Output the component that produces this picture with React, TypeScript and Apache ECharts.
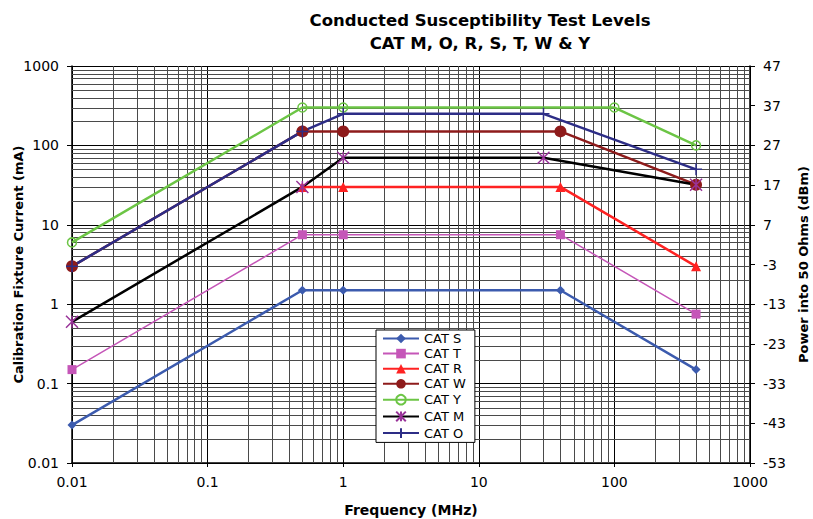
import React, { useEffect, useRef } from "react";
import * as echarts from "echarts";

// ---- Data (frequency in MHz, current in mA) ----
const catSFreq = [0.01, 0.5, 1, 40, 400];
const catSmA = [0.03, 1.5, 1.5, 1.5, 0.15];

const catTFreq = [0.01, 0.5, 1, 40, 400];
const catTmA = [0.15, 7.5, 7.5, 7.5, 0.75];

const catRFreq = [0.5, 1, 40, 400];
const catRmA = [30, 30, 30, 3];

const catWFreq = [0.01, 0.5, 1, 40, 400];
const catWmA = [3, 150, 150, 150, 32];

const catYFreq = [0.01, 0.5, 1, 100, 400];
const catYmA = [6, 300, 300, 300, 100];

const catMFreq = [0.01, 0.5, 1, 30, 400];
const catMmA = [0.6, 30, 70, 70, 32];

const catOFreq = [0.01, 0.5, 1, 30, 400];
const catOmA = [3, 150, 250, 250, 50];

const seriesNames = ["CAT S", "CAT T", "CAT R", "CAT W", "CAT Y", "CAT M", "CAT O"];

// ---- Axes ----
const xTickLabels = ["0.01", "0.1", "1", "10", "100", "1000"];
const yTickLabels = ["0.01", "0.1", "1", "10", "100", "1000"];
const decadeStarts = [0.01, 0.1, 1, 10, 100];
const minorMultipliers = [2, 3, 4, 5, 6, 7, 8, 9];
const X_MIN = 0.01;
const X_MAX = 1000;
const Y_MIN = 0.01;
const Y_MAX = 1000;
const DBM_MIN = -53;
const DBM_MAX = 47;
const DBM_STEP = 10;

const FONT = "DejaVu Sans";

const pairs = (xs: number[], ys: number[]) => xs.map((x, i) => [x, ys[i]]);
const minorValues = decadeStarts.flatMap((d) =>
  minorMultipliers.map((m) => Number((d * m).toPrecision(6)))
);
const labelFor = (labels: string[], v: number) => {
  const idx = Math.round(Math.log10(v)) + 2;
  return labels[idx] ?? "";
};

export default function App() {
  const ref = useRef<HTMLDivElement>(null);

  useEffect(() => {
    document.body.style.margin = "0";
    if (!ref.current) return;
    const chart = echarts.init(ref.current, null, { renderer: "svg" });

    const gridColor = "#4a4a4a";

    const lineSeries = (
      name: string,
      data: number[][],
      color: string,
      width: number,
      symbol: string,
      symbolSize: number,
      itemStyle: any
    ) => ({
      name,
      type: "line",
      data,
      z: 3,
      symbol,
      symbolSize,
      symbolKeepAspect: true,
      showAllSymbol: true,
      lineStyle: { color, width },
      itemStyle,
      emphasis: { disabled: true },
    });

    const option: any = {
      animation: false,
      backgroundColor: "#ffffff",
      textStyle: { fontFamily: FONT },
      grid: {
        left: 72,
        right: 63,
        top: 66,
        bottom: 56,
        containLabel: false,
        outerBoundsMode: "none",
      },
      graphic: [
        {
          type: "text",
          x: 480,
          y: 20,
          style: {
            text: "Conducted Susceptibility Test Levels",
            textAlign: "center",
            textVerticalAlign: "middle",
            font: `bold 16.5px "${FONT}"`,
            fill: "#000",
          },
        },
        {
          type: "text",
          x: 480,
          y: 43,
          style: {
            text: "CAT M, O, R, S, T, W & Y",
            textAlign: "center",
            textVerticalAlign: "middle",
            font: `bold 16.5px "${FONT}"`,
            fill: "#000",
          },
        },
      ],
      legend: {
        orient: "vertical",
        left: 376,
        top: 330,
        itemWidth: 36,
        itemHeight: 12,
        itemGap: 2.1,
        padding: [2, 9, 2, 6],
        backgroundColor: "#ffffff",
        borderColor: "#000",
        borderWidth: 1,
        borderRadius: 0,
        textStyle: { fontFamily: FONT, fontSize: 13, color: "#000" },
        data: seriesNames,
        z: 10,
      },
      xAxis: {
        type: "log",
        logBase: 10,
        min: X_MIN,
        max: X_MAX,
        splitNumber: 5,
        name: "Frequency (MHz)",
        nameLocation: "middle",
        nameGap: 40,
        nameMoveOverlap: false,
        nameTextStyle: { fontFamily: FONT, fontSize: 14, fontWeight: "bold", color: "#000" },
        axisLine: { show: true, onZero: false, lineStyle: { color: "#000", width: 1.5 } },
        axisTick: { show: true, length: 4, lineStyle: { color: "#000" } },
        axisLabel: {
          fontFamily: FONT,
          fontSize: 14,
          color: "#000",
          margin: 12,
          formatter: (v: number) => labelFor(xTickLabels, v),
        },
        splitLine: { show: true, lineStyle: { color: "#000", width: 1 } },
      },
      yAxis: [
        {
          type: "log",
          logBase: 10,
          min: Y_MIN,
          max: Y_MAX,
          splitNumber: 5,
          position: "left",
          name: "Calibration Fixture Current (mA)",
          nameLocation: "middle",
          nameGap: 47,
          nameMoveOverlap: false,
          nameTextStyle: { fontFamily: FONT, fontSize: 13, fontWeight: "bold", color: "#000" },
          axisLine: { show: true, onZero: false, lineStyle: { color: "#000", width: 1.5 } },
          axisTick: { show: true, length: 5, lineStyle: { color: "#000" } },
          axisLabel: {
            fontFamily: FONT,
            fontSize: 14,
            color: "#000",
            margin: 13,
            formatter: (v: number) => labelFor(yTickLabels, v),
          },
          splitLine: { show: true, lineStyle: { color: "#000", width: 1 } },
        },
        {
          type: "value",
          min: DBM_MIN,
          max: DBM_MAX,
          interval: DBM_STEP,
          position: "right",
          name: "Power into 50 Ohms (dBm)",
          nameLocation: "middle",
          nameGap: 47,
          nameRotate: 90,
          nameMoveOverlap: false,
          nameTextStyle: { fontFamily: FONT, fontSize: 13, fontWeight: "bold", color: "#000" },
          axisLine: { show: true, onZero: false, lineStyle: { color: "#000", width: 1.5 } },
          axisTick: { show: true, length: 5, lineStyle: { color: "#000" } },
          axisLabel: { fontFamily: FONT, fontSize: 14, color: "#000", margin: 13 },
          splitLine: { show: false },
        },
      ],
      series: [
        {
          type: "custom",
          silent: true,
          z: 1,
          clip: false,
          xAxisIndex: 0,
          yAxisIndex: 0,
          data: minorValues.map((v) => [v, 1]),
          renderItem: (_p: any, api: any) => {
            const v = api.value(0);
            const a = api.coord([v, Y_MIN]);
            const b = api.coord([v, Y_MAX]);
            const x = Math.round(a[0]) + 0.5;
            return {
              type: "line",
              shape: { x1: x, y1: a[1], x2: x, y2: b[1] },
              style: { stroke: gridColor, lineWidth: 1 },
            };
          },
        },
        {
          type: "custom",
          silent: true,
          z: 1,
          clip: false,
          xAxisIndex: 0,
          yAxisIndex: 0,
          data: minorValues.map((v) => [1, v]),
          renderItem: (_p: any, api: any) => {
            const v = api.value(1);
            const a = api.coord([X_MIN, v]);
            const b = api.coord([X_MAX, v]);
            const y = Math.round(a[1]) + 0.5;
            return {
              type: "line",
              shape: { x1: a[0], y1: y, x2: b[0], y2: y },
              style: { stroke: gridColor, lineWidth: 1 },
            };
          },
        },
        lineSeries("CAT S", pairs(catSFreq, catSmA), "#3C5BAE", 2.5, "diamond", 9, {
          color: "#3C5BAE",
        }),
        lineSeries("CAT T", pairs(catTFreq, catTmA), "#C556B8", 1.5, "rect", 9, {
          color: "#C556B8",
        }),
        lineSeries("CAT R", pairs(catRFreq, catRmA), "#FF2222", 2.5, "triangle", 10, {
          color: "#FF2222",
        }),
        lineSeries("CAT W", pairs(catWFreq, catWmA), "#8E1B1B", 2.5, "circle", 12, {
          color: "#8E1B1B",
        }),
        lineSeries("CAT Y", pairs(catYFreq, catYmA), "#6CC545", 2.5, "circle", 9, {
          color: "none",
          borderColor: "#6CC545",
          borderWidth: 1.5,
        }),
        lineSeries(
          "CAT M",
          pairs(catMFreq, catMmA),
          "#000000",
          2.5,
          "path://M0,0L10,10M10,0L0,10M5,0L5,10",
          12,
          { color: "none", borderColor: "#993399", borderWidth: 1.5 }
        ),
        lineSeries(
          "CAT O",
          pairs(catOFreq, catOmA),
          "#2D2D86",
          2.5,
          "path://M5,0L5,10M0,5L10,5",
          12,
          { color: "none", borderColor: "#2D2D86", borderWidth: 1.5 }
        ),
      ],
    };

    chart.setOption(option);
    return () => chart.dispose();
  }, []);

  return <div ref={ref} style={{ width: 813, height: 519 }} />;
}
